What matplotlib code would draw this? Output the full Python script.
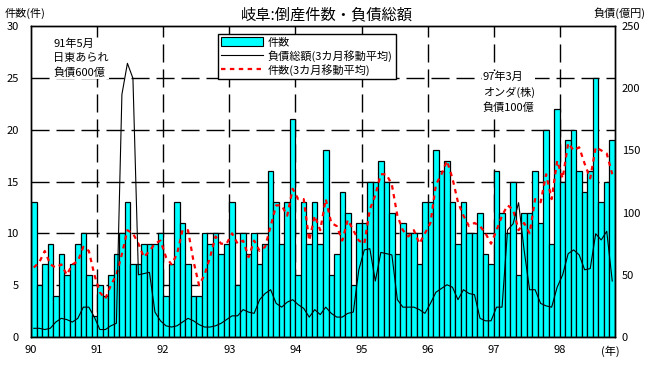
import numpy as np
import matplotlib
matplotlib.use('Agg')
import matplotlib.pyplot as plt
from matplotlib.patches import Patch
from matplotlib.lines import Line2D

plt.rcParams['font.family'] = ['Noto Sans CJK JP', 'DejaVu Sans']

# monthly data, Jan 1990 - Oct 1998
counts = [13, 5, 7, 9, 4, 8, 6, 7, 9, 10, 6, 2,
          5, 4, 6, 8, 10, 13, 7, 7, 9, 9, 9, 10,
          4, 7, 13, 11, 7, 4, 4, 10, 9, 10, 8, 9,
          13, 5, 10, 8, 10, 7, 9, 16, 13, 9, 13, 21,
          6, 13, 9, 13, 9, 18, 6, 8, 14, 12, 5, 11,
          11, 15, 15, 17, 15, 12, 8, 11, 10, 10, 7, 13,
          13, 18, 16, 17, 13, 9, 13, 10, 10, 12, 8, 7,
          16, 12, 10, 15, 6, 12, 12, 16, 11, 20, 9, 22,
          15, 19, 20, 16, 14, 16, 25, 13, 15, 19]

# 件数 3カ月移動平均
count_ma = [6.7, 7.2, 8.3, 7.0, 6.7, 7.0, 6.0, 7.0, 7.3, 8.7, 8.3, 6.0,
            4.3, 3.7, 5.0, 6.0, 8.0, 10.3, 10.0, 9.0, 7.7, 8.3, 9.0, 9.3,
            7.7, 7.0, 8.0, 10.3, 10.3, 7.3, 5.0, 6.0, 7.7, 9.7, 9.0, 9.0,
            10.0, 9.0, 9.3, 7.7, 9.3, 8.3, 8.7, 10.7, 12.7, 12.7, 11.7, 14.3,
            13.3, 13.3, 9.3, 11.7, 10.3, 13.3, 11.0, 10.7, 9.3, 11.3, 10.3, 9.3,
            9.0, 12.3, 13.7, 15.7, 15.7, 14.7, 11.7, 10.3, 9.7, 10.3, 9.0, 10.0,
            11.0, 14.7, 15.7, 17.0, 15.3, 13.0, 11.7, 10.7, 11.0, 10.7, 10.0, 9.0,
            10.3, 11.7, 12.7, 12.3, 10.3, 11.0, 10.0, 13.3, 13.0, 15.7, 13.3, 17.0,
            15.3, 18.7, 18.0, 18.3, 16.7, 15.3, 18.3, 18.0, 17.7, 15.7]

# 負債総額 3カ月移動平均 (億円)
debt_ma = [7, 7, 6, 7, 12, 15, 14, 12, 15, 24, 24, 16,
           6, 6, 9, 11, 195, 220, 208, 50, 51, 52, 20, 13,
           9, 8, 9, 12, 15, 13, 10, 8, 8, 9, 11, 14,
           17, 17, 22, 20, 19, 30, 35, 38, 27, 24, 28, 30,
           26, 23, 16, 22, 18, 24, 19, 16, 16, 19, 20, 54,
           70, 71, 45, 68, 67, 66, 30, 24, 24, 24, 22, 19,
           27, 36, 39, 42, 40, 30, 38, 35, 34, 15, 13, 13,
           24, 24, 86, 91, 108, 70, 38, 38, 27, 25, 24, 40,
           50, 67, 70, 66, 54, 55, 83, 78, 85, 45]

year_labels = ['90', '91', '92', '93', '94', '95', '96', '97', '98']
legend_labels = ['件数', '負債総額(3カ月移動平均)', '件数(3カ月移動平均)']

W, H = 648, 366
fig = plt.figure(figsize=(W / 100, H / 100), dpi=100)
ax = fig.add_axes([31 / W, 29 / H, 584 / W, 311 / H])

x = np.arange(len(counts))
ax.bar(x, counts, width=1.0, align='edge', color='#00FFFF',
       edgecolor='black', linewidth=0.9, zorder=2)
ax.plot(x + 0.5, count_ma, color='red', lw=1.6, dashes=(2, 2), zorder=3)

# dashed grid behind the bars
for m in range(12, 12 * len(year_labels), 12):
    ax.axvline(m, color='black', lw=1, dashes=(13, 5), zorder=1)
for v in range(5, 30, 5):
    ax.axhline(v, color='black', lw=1, dashes=(13, 5), zorder=1)

ax.set_xlim(0, len(counts))
ax.set_ylim(0, 30)
ax.set_yticks(range(0, 31, 5))
ax.set_xticks(range(0, 12 * len(year_labels), 12))
ax.set_xticklabels(year_labels)
ax.tick_params(axis='y', length=0, pad=9, labelsize=8)
ax.tick_params(axis='x', length=0, pad=6, labelsize=8)

ax2 = ax.twinx()
ax2.plot(x + 0.5, debt_ma, color='black', lw=0.8, zorder=4)
ax2.set_ylim(0, 250)
ax2.set_yticks(range(0, 251, 50))
ax2.tick_params(axis='y', length=0, pad=5, labelsize=8)

for a in (ax, ax2):
    for s in a.spines.values():
        s.set_linewidth(1.0)
        s.set_color('black')

handles = [Patch(facecolor='#00FFFF', edgecolor='black', linewidth=0.8),
           Line2D([], [], color='black', lw=0.8),
           Line2D([], [], color='red', lw=1.6, dashes=(2, 2))]
leg = ax2.legend(handles, legend_labels, loc='upper left',
                 bbox_to_anchor=(0.32, 0.974), fancybox=False,
                 edgecolor='black', framealpha=1, fontsize=8,
                 handlelength=3.8, handleheight=0.8, borderpad=0.3,
                 labelspacing=0.2, borderaxespad=0, handletextpad=0.4)
leg.get_frame().set_linewidth(1.0)

ax2.text(4.0, 250 * 28.8 / 30, '91年5月\n日東あられ\n負債600億', fontsize=8,
         ha='left', va='top', linespacing=1.5, zorder=5,
         bbox=dict(facecolor='white', edgecolor='none', pad=0.5))
ax2.text(82.0, 250 * 25.6 / 30, '97年3月\nオンダ(株)\n負債100億', fontsize=8,
         ha='left', va='top', linespacing=1.5, zorder=5,
         bbox=dict(facecolor='white', edgecolor='none', pad=0.5))

fig.text(327 / W, 1 - 15 / H, '岐阜:倒産件数・負債総額', fontsize=11,
         ha='center', va='center')
fig.text(5 / W, 1 - 13 / H, '件数(件)', fontsize=8, ha='left', va='center')
fig.text(645 / W, 1 - 13 / H, '負債(億円)', fontsize=8, ha='right', va='center')
fig.text(610 / W, 1 - 351 / H, '(年)', fontsize=8, ha='center', va='center')

fig.savefig('out.png', dpi=100)
